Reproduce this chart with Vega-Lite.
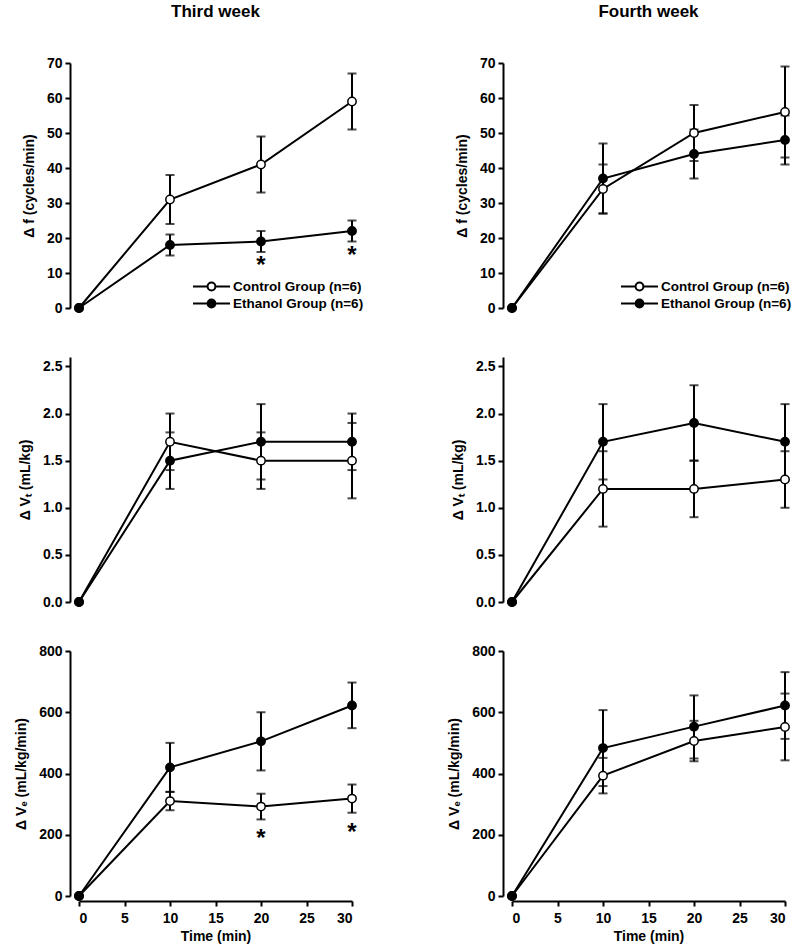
{
  "$schema": "https://vega.github.io/schema/vega-lite/v6.json",
  "background": "white",
  "padding": {"left": 14, "top": 3, "right": 5, "bottom": 3},
  "data": {
    "values": [
      {"week": "Third week", "var": "f", "group": "Control Group (n=6)", "time": 0, "mean": 0, "lo": null, "hi": null},
      {"week": "Third week", "var": "f", "group": "Control Group (n=6)", "time": 10, "mean": 31, "lo": 24, "hi": 38},
      {"week": "Third week", "var": "f", "group": "Control Group (n=6)", "time": 20, "mean": 41, "lo": 33, "hi": 49},
      {"week": "Third week", "var": "f", "group": "Control Group (n=6)", "time": 30, "mean": 59, "lo": 51, "hi": 67},
      {"week": "Third week", "var": "f", "group": "Ethanol Group (n=6)", "time": 0, "mean": 0, "lo": null, "hi": null},
      {"week": "Third week", "var": "f", "group": "Ethanol Group (n=6)", "time": 10, "mean": 18, "lo": 15, "hi": 21},
      {"week": "Third week", "var": "f", "group": "Ethanol Group (n=6)", "time": 20, "mean": 19, "lo": 16, "hi": 22, "star": "*"},
      {"week": "Third week", "var": "f", "group": "Ethanol Group (n=6)", "time": 30, "mean": 22, "lo": 19, "hi": 25, "star": "*"},

      {"week": "Fourth week", "var": "f", "group": "Control Group (n=6)", "time": 0, "mean": 0, "lo": null, "hi": null},
      {"week": "Fourth week", "var": "f", "group": "Control Group (n=6)", "time": 10, "mean": 34, "lo": 27, "hi": 41},
      {"week": "Fourth week", "var": "f", "group": "Control Group (n=6)", "time": 20, "mean": 50, "lo": 42, "hi": 58},
      {"week": "Fourth week", "var": "f", "group": "Control Group (n=6)", "time": 30, "mean": 56, "lo": 43, "hi": 69},
      {"week": "Fourth week", "var": "f", "group": "Ethanol Group (n=6)", "time": 0, "mean": 0, "lo": null, "hi": null},
      {"week": "Fourth week", "var": "f", "group": "Ethanol Group (n=6)", "time": 10, "mean": 37, "lo": 27, "hi": 47},
      {"week": "Fourth week", "var": "f", "group": "Ethanol Group (n=6)", "time": 20, "mean": 44, "lo": 37, "hi": 51},
      {"week": "Fourth week", "var": "f", "group": "Ethanol Group (n=6)", "time": 30, "mean": 48, "lo": 41, "hi": 55},

      {"week": "Third week", "var": "VT", "group": "Control Group (n=6)", "time": 0, "mean": 0, "lo": null, "hi": null},
      {"week": "Third week", "var": "VT", "group": "Control Group (n=6)", "time": 10, "mean": 1.7, "lo": 1.4, "hi": 2.0},
      {"week": "Third week", "var": "VT", "group": "Control Group (n=6)", "time": 20, "mean": 1.5, "lo": 1.2, "hi": 1.8},
      {"week": "Third week", "var": "VT", "group": "Control Group (n=6)", "time": 30, "mean": 1.5, "lo": 1.1, "hi": 1.9},
      {"week": "Third week", "var": "VT", "group": "Ethanol Group (n=6)", "time": 0, "mean": 0, "lo": null, "hi": null},
      {"week": "Third week", "var": "VT", "group": "Ethanol Group (n=6)", "time": 10, "mean": 1.5, "lo": 1.2, "hi": 1.8},
      {"week": "Third week", "var": "VT", "group": "Ethanol Group (n=6)", "time": 20, "mean": 1.7, "lo": 1.3, "hi": 2.1},
      {"week": "Third week", "var": "VT", "group": "Ethanol Group (n=6)", "time": 30, "mean": 1.7, "lo": 1.4, "hi": 2.0},

      {"week": "Fourth week", "var": "VT", "group": "Control Group (n=6)", "time": 0, "mean": 0, "lo": null, "hi": null},
      {"week": "Fourth week", "var": "VT", "group": "Control Group (n=6)", "time": 10, "mean": 1.2, "lo": 0.8, "hi": 1.6},
      {"week": "Fourth week", "var": "VT", "group": "Control Group (n=6)", "time": 20, "mean": 1.2, "lo": 0.9, "hi": 1.5},
      {"week": "Fourth week", "var": "VT", "group": "Control Group (n=6)", "time": 30, "mean": 1.3, "lo": 1.0, "hi": 1.6},
      {"week": "Fourth week", "var": "VT", "group": "Ethanol Group (n=6)", "time": 0, "mean": 0, "lo": null, "hi": null},
      {"week": "Fourth week", "var": "VT", "group": "Ethanol Group (n=6)", "time": 10, "mean": 1.7, "lo": 1.3, "hi": 2.1},
      {"week": "Fourth week", "var": "VT", "group": "Ethanol Group (n=6)", "time": 20, "mean": 1.9, "lo": 1.5, "hi": 2.3},
      {"week": "Fourth week", "var": "VT", "group": "Ethanol Group (n=6)", "time": 30, "mean": 1.7, "lo": 1.3, "hi": 2.1},

      {"week": "Third week", "var": "VE", "group": "Control Group (n=6)", "time": 0, "mean": 0, "lo": null, "hi": null},
      {"week": "Third week", "var": "VE", "group": "Control Group (n=6)", "time": 10, "mean": 310, "lo": 280, "hi": 340},
      {"week": "Third week", "var": "VE", "group": "Control Group (n=6)", "time": 20, "mean": 292, "lo": 250, "hi": 334, "star": "*"},
      {"week": "Third week", "var": "VE", "group": "Control Group (n=6)", "time": 30, "mean": 318, "lo": 272, "hi": 364, "star": "*"},
      {"week": "Third week", "var": "VE", "group": "Ethanol Group (n=6)", "time": 0, "mean": 0, "lo": null, "hi": null},
      {"week": "Third week", "var": "VE", "group": "Ethanol Group (n=6)", "time": 10, "mean": 420, "lo": 340, "hi": 500},
      {"week": "Third week", "var": "VE", "group": "Ethanol Group (n=6)", "time": 20, "mean": 505, "lo": 410, "hi": 600},
      {"week": "Third week", "var": "VE", "group": "Ethanol Group (n=6)", "time": 30, "mean": 622, "lo": 548, "hi": 697},

      {"week": "Fourth week", "var": "VE", "group": "Control Group (n=6)", "time": 0, "mean": 0, "lo": null, "hi": null},
      {"week": "Fourth week", "var": "VE", "group": "Control Group (n=6)", "time": 10, "mean": 393, "lo": 335, "hi": 451},
      {"week": "Fourth week", "var": "VE", "group": "Control Group (n=6)", "time": 20, "mean": 506, "lo": 440, "hi": 572},
      {"week": "Fourth week", "var": "VE", "group": "Control Group (n=6)", "time": 30, "mean": 552, "lo": 443, "hi": 661},
      {"week": "Fourth week", "var": "VE", "group": "Ethanol Group (n=6)", "time": 0, "mean": 0, "lo": null, "hi": null},
      {"week": "Fourth week", "var": "VE", "group": "Ethanol Group (n=6)", "time": 10, "mean": 483, "lo": 359, "hi": 607},
      {"week": "Fourth week", "var": "VE", "group": "Ethanol Group (n=6)", "time": 20, "mean": 553, "lo": 449, "hi": 655},
      {"week": "Fourth week", "var": "VE", "group": "Ethanol Group (n=6)", "time": 30, "mean": 622, "lo": 513, "hi": 731}
    ]
  },
  "columns": 2,
  "bounds": "flush",
  "spacing": {"row": 49, "column": 160},
  "resolve": {"scale": {"fill": "independent"}, "legend": {"fill": "independent"}},
  "concat": [
    {
      "width": 273, "height": 245,
      "title": {"text": "Third week", "anchor": "middle", "frame": "group", "offset": 35},
      "transform": [{"filter": "datum.week === 'Third week' && datum.var === 'f'"}],
      "encoding": {"x": {"field": "time", "type": "quantitative", "scale": {"domain": [0, 30]}, "axis": null}},
      "layer": [
        {"mark": {"type": "line", "color": "black", "strokeWidth": 2},
         "encoding": {"y": {"field": "mean", "type": "quantitative", "scale": {"domain": [0, 70]}, "axis": {"title": "Δ f (cycles/min)", "values": [0, 10, 20, 30, 40, 50, 60, 70]}}, "detail": {"field": "group"}}},
        {"transform": [{"filter": "isValid(datum.lo)"}], "mark": {"type": "rule", "color": "black", "strokeWidth": 2},
         "encoding": {"y": {"field": "lo", "type": "quantitative", "axis": {"title": "Δ f (cycles/min)", "values": [0, 10, 20, 30, 40, 50, 60, 70]}}, "y2": {"field": "hi"}}},
        {"transform": [{"filter": "isValid(datum.lo)"}], "mark": {"type": "tick", "orient": "horizontal", "size": 9, "thickness": 2, "color": "black"},
         "encoding": {"y": {"field": "lo", "type": "quantitative", "axis": {"title": "Δ f (cycles/min)", "values": [0, 10, 20, 30, 40, 50, 60, 70]}}}},
        {"transform": [{"filter": "isValid(datum.hi)"}], "mark": {"type": "tick", "orient": "horizontal", "size": 9, "thickness": 2, "color": "black"},
         "encoding": {"y": {"field": "hi", "type": "quantitative", "axis": {"title": "Δ f (cycles/min)", "values": [0, 10, 20, 30, 40, 50, 60, 70]}}}},
        {"mark": {"type": "point", "shape": "circle", "size": 70, "stroke": "black", "strokeWidth": 1.5, "opacity": 1},
         "encoding": {"y": {"field": "mean", "type": "quantitative", "axis": {"title": "Δ f (cycles/min)", "values": [0, 10, 20, 30, 40, 50, 60, 70]}},
                      "fill": {"field": "group", "type": "nominal", "scale": {"domain": ["Control Group (n=6)", "Ethanol Group (n=6)"], "range": ["white", "black"]},
                               "legend": {"orient": "none", "legendX": 113, "legendY": 215}}}},
        {"transform": [{"filter": "datum.star === '*'"}], "mark": {"type": "text", "fontSize": 24, "fontWeight": "bold", "align": "center", "baseline": "alphabetic", "dy": 21, "color": "black"},
         "encoding": {"y": {"field": "lo", "type": "quantitative", "axis": {"title": "Δ f (cycles/min)", "values": [0, 10, 20, 30, 40, 50, 60, 70]}}, "text": {"field": "star"}}}
      ]
    },
    {
      "width": 273, "height": 245,
      "title": {"text": "Fourth week", "anchor": "middle", "frame": "group", "offset": 35},
      "transform": [{"filter": "datum.week === 'Fourth week' && datum.var === 'f'"}],
      "encoding": {"x": {"field": "time", "type": "quantitative", "scale": {"domain": [0, 30]}, "axis": null}},
      "layer": [
        {"mark": {"type": "line", "color": "black", "strokeWidth": 2},
         "encoding": {"y": {"field": "mean", "type": "quantitative", "scale": {"domain": [0, 70]}, "axis": {"title": "Δ f (cycles/min)", "values": [0, 10, 20, 30, 40, 50, 60, 70]}}, "detail": {"field": "group"}}},
        {"transform": [{"filter": "isValid(datum.lo)"}], "mark": {"type": "rule", "color": "black", "strokeWidth": 2},
         "encoding": {"y": {"field": "lo", "type": "quantitative", "axis": {"title": "Δ f (cycles/min)", "values": [0, 10, 20, 30, 40, 50, 60, 70]}}, "y2": {"field": "hi"}}},
        {"transform": [{"filter": "isValid(datum.lo)"}], "mark": {"type": "tick", "orient": "horizontal", "size": 9, "thickness": 2, "color": "black"},
         "encoding": {"y": {"field": "lo", "type": "quantitative", "axis": {"title": "Δ f (cycles/min)", "values": [0, 10, 20, 30, 40, 50, 60, 70]}}}},
        {"transform": [{"filter": "isValid(datum.hi)"}], "mark": {"type": "tick", "orient": "horizontal", "size": 9, "thickness": 2, "color": "black"},
         "encoding": {"y": {"field": "hi", "type": "quantitative", "axis": {"title": "Δ f (cycles/min)", "values": [0, 10, 20, 30, 40, 50, 60, 70]}}}},
        {"mark": {"type": "point", "shape": "circle", "size": 70, "stroke": "black", "strokeWidth": 1.5, "opacity": 1},
         "encoding": {"y": {"field": "mean", "type": "quantitative", "axis": {"title": "Δ f (cycles/min)", "values": [0, 10, 20, 30, 40, 50, 60, 70]}},
                      "fill": {"field": "group", "type": "nominal", "scale": {"domain": ["Control Group (n=6)", "Ethanol Group (n=6)"], "range": ["white", "black"]},
                               "legend": {"orient": "none", "legendX": 108, "legendY": 215}}}}
      ]
    },
    {
      "width": 273, "height": 245,
      "transform": [{"filter": "datum.week === 'Third week' && datum.var === 'VT'"}],
      "encoding": {"x": {"field": "time", "type": "quantitative", "scale": {"domain": [0, 30]}, "axis": null}},
      "layer": [
        {"mark": {"type": "line", "color": "black", "strokeWidth": 2},
         "encoding": {"y": {"field": "mean", "type": "quantitative", "scale": {"domain": [0, 2.5]}, "axis": {"title": "Δ Vₜ (mL/kg)", "values": [0, 0.5, 1, 1.5, 2, 2.5], "format": ".1f"}}, "detail": {"field": "group"}}},
        {"transform": [{"filter": "isValid(datum.lo)"}], "mark": {"type": "rule", "color": "black", "strokeWidth": 2},
         "encoding": {"y": {"field": "lo", "type": "quantitative", "axis": {"title": "Δ Vₜ (mL/kg)", "values": [0, 0.5, 1, 1.5, 2, 2.5], "format": ".1f"}}, "y2": {"field": "hi"}}},
        {"transform": [{"filter": "isValid(datum.lo)"}], "mark": {"type": "tick", "orient": "horizontal", "size": 9, "thickness": 2, "color": "black"},
         "encoding": {"y": {"field": "lo", "type": "quantitative", "axis": {"title": "Δ Vₜ (mL/kg)", "values": [0, 0.5, 1, 1.5, 2, 2.5], "format": ".1f"}}}},
        {"transform": [{"filter": "isValid(datum.hi)"}], "mark": {"type": "tick", "orient": "horizontal", "size": 9, "thickness": 2, "color": "black"},
         "encoding": {"y": {"field": "hi", "type": "quantitative", "axis": {"title": "Δ Vₜ (mL/kg)", "values": [0, 0.5, 1, 1.5, 2, 2.5], "format": ".1f"}}}},
        {"mark": {"type": "point", "shape": "circle", "size": 70, "stroke": "black", "strokeWidth": 1.5, "opacity": 1},
         "encoding": {"y": {"field": "mean", "type": "quantitative", "axis": {"title": "Δ Vₜ (mL/kg)", "values": [0, 0.5, 1, 1.5, 2, 2.5], "format": ".1f"}},
                      "fill": {"field": "group", "type": "nominal", "scale": {"domain": ["Control Group (n=6)", "Ethanol Group (n=6)"], "range": ["white", "black"]}, "legend": null}}}
      ]
    },
    {
      "width": 273, "height": 245,
      "transform": [{"filter": "datum.week === 'Fourth week' && datum.var === 'VT'"}],
      "encoding": {"x": {"field": "time", "type": "quantitative", "scale": {"domain": [0, 30]}, "axis": null}},
      "layer": [
        {"mark": {"type": "line", "color": "black", "strokeWidth": 2},
         "encoding": {"y": {"field": "mean", "type": "quantitative", "scale": {"domain": [0, 2.5]}, "axis": {"title": "Δ Vₜ (mL/kg)", "values": [0, 0.5, 1, 1.5, 2, 2.5], "format": ".1f"}}, "detail": {"field": "group"}}},
        {"transform": [{"filter": "isValid(datum.lo)"}], "mark": {"type": "rule", "color": "black", "strokeWidth": 2},
         "encoding": {"y": {"field": "lo", "type": "quantitative", "axis": {"title": "Δ Vₜ (mL/kg)", "values": [0, 0.5, 1, 1.5, 2, 2.5], "format": ".1f"}}, "y2": {"field": "hi"}}},
        {"transform": [{"filter": "isValid(datum.lo)"}], "mark": {"type": "tick", "orient": "horizontal", "size": 9, "thickness": 2, "color": "black"},
         "encoding": {"y": {"field": "lo", "type": "quantitative", "axis": {"title": "Δ Vₜ (mL/kg)", "values": [0, 0.5, 1, 1.5, 2, 2.5], "format": ".1f"}}}},
        {"transform": [{"filter": "isValid(datum.hi)"}], "mark": {"type": "tick", "orient": "horizontal", "size": 9, "thickness": 2, "color": "black"},
         "encoding": {"y": {"field": "hi", "type": "quantitative", "axis": {"title": "Δ Vₜ (mL/kg)", "values": [0, 0.5, 1, 1.5, 2, 2.5], "format": ".1f"}}}},
        {"mark": {"type": "point", "shape": "circle", "size": 70, "stroke": "black", "strokeWidth": 1.5, "opacity": 1},
         "encoding": {"y": {"field": "mean", "type": "quantitative", "axis": {"title": "Δ Vₜ (mL/kg)", "values": [0, 0.5, 1, 1.5, 2, 2.5], "format": ".1f"}},
                      "fill": {"field": "group", "type": "nominal", "scale": {"domain": ["Control Group (n=6)", "Ethanol Group (n=6)"], "range": ["white", "black"]}, "legend": null}}}
      ]
    },
    {
      "width": 273, "height": 245,
      "transform": [{"filter": "datum.week === 'Third week' && datum.var === 'VE'"}],
      "encoding": {"x": {"field": "time", "type": "quantitative", "scale": {"domain": [0, 30]}, "axis": {"title": "Time (min)", "values": [0, 5, 10, 15, 20, 25, 30]}}},
      "layer": [
        {"mark": {"type": "line", "color": "black", "strokeWidth": 2},
         "encoding": {"y": {"field": "mean", "type": "quantitative", "scale": {"domain": [0, 800]}, "axis": {"title": "Δ Vₑ (mL/kg/min)", "values": [0, 200, 400, 600, 800]}}, "detail": {"field": "group"}}},
        {"transform": [{"filter": "isValid(datum.lo)"}], "mark": {"type": "rule", "color": "black", "strokeWidth": 2},
         "encoding": {"y": {"field": "lo", "type": "quantitative", "axis": {"title": "Δ Vₑ (mL/kg/min)", "values": [0, 200, 400, 600, 800]}}, "y2": {"field": "hi"}}},
        {"transform": [{"filter": "isValid(datum.lo)"}], "mark": {"type": "tick", "orient": "horizontal", "size": 9, "thickness": 2, "color": "black"},
         "encoding": {"y": {"field": "lo", "type": "quantitative", "axis": {"title": "Δ Vₑ (mL/kg/min)", "values": [0, 200, 400, 600, 800]}}}},
        {"transform": [{"filter": "isValid(datum.hi)"}], "mark": {"type": "tick", "orient": "horizontal", "size": 9, "thickness": 2, "color": "black"},
         "encoding": {"y": {"field": "hi", "type": "quantitative", "axis": {"title": "Δ Vₑ (mL/kg/min)", "values": [0, 200, 400, 600, 800]}}}},
        {"mark": {"type": "point", "shape": "circle", "size": 70, "stroke": "black", "strokeWidth": 1.5, "opacity": 1},
         "encoding": {"y": {"field": "mean", "type": "quantitative", "axis": {"title": "Δ Vₑ (mL/kg/min)", "values": [0, 200, 400, 600, 800]}},
                      "fill": {"field": "group", "type": "nominal", "scale": {"domain": ["Control Group (n=6)", "Ethanol Group (n=6)"], "range": ["white", "black"]}, "legend": null}}},
        {"transform": [{"filter": "datum.star === '*'"}], "mark": {"type": "text", "fontSize": 24, "fontWeight": "bold", "align": "center", "baseline": "alphabetic", "dy": 27, "color": "black"},
         "encoding": {"y": {"field": "lo", "type": "quantitative", "axis": {"title": "Δ Vₑ (mL/kg/min)", "values": [0, 200, 400, 600, 800]}}, "text": {"field": "star"}}}
      ]
    },
    {
      "width": 273, "height": 245,
      "transform": [{"filter": "datum.week === 'Fourth week' && datum.var === 'VE'"}],
      "encoding": {"x": {"field": "time", "type": "quantitative", "scale": {"domain": [0, 30]}, "axis": {"title": "Time (min)", "values": [0, 5, 10, 15, 20, 25, 30]}}},
      "layer": [
        {"mark": {"type": "line", "color": "black", "strokeWidth": 2},
         "encoding": {"y": {"field": "mean", "type": "quantitative", "scale": {"domain": [0, 800]}, "axis": {"title": "Δ Vₑ (mL/kg/min)", "values": [0, 200, 400, 600, 800]}}, "detail": {"field": "group"}}},
        {"transform": [{"filter": "isValid(datum.lo)"}], "mark": {"type": "rule", "color": "black", "strokeWidth": 2},
         "encoding": {"y": {"field": "lo", "type": "quantitative", "axis": {"title": "Δ Vₑ (mL/kg/min)", "values": [0, 200, 400, 600, 800]}}, "y2": {"field": "hi"}}},
        {"transform": [{"filter": "isValid(datum.lo)"}], "mark": {"type": "tick", "orient": "horizontal", "size": 9, "thickness": 2, "color": "black"},
         "encoding": {"y": {"field": "lo", "type": "quantitative", "axis": {"title": "Δ Vₑ (mL/kg/min)", "values": [0, 200, 400, 600, 800]}}}},
        {"transform": [{"filter": "isValid(datum.hi)"}], "mark": {"type": "tick", "orient": "horizontal", "size": 9, "thickness": 2, "color": "black"},
         "encoding": {"y": {"field": "hi", "type": "quantitative", "axis": {"title": "Δ Vₑ (mL/kg/min)", "values": [0, 200, 400, 600, 800]}}}},
        {"mark": {"type": "point", "shape": "circle", "size": 70, "stroke": "black", "strokeWidth": 1.5, "opacity": 1},
         "encoding": {"y": {"field": "mean", "type": "quantitative", "axis": {"title": "Δ Vₑ (mL/kg/min)", "values": [0, 200, 400, 600, 800]}},
                      "fill": {"field": "group", "type": "nominal", "scale": {"domain": ["Control Group (n=6)", "Ethanol Group (n=6)"], "range": ["white", "black"]}, "legend": null}}}
      ]
    }
  ],
  "config": {
    "font": "Liberation Sans",
    "view": {"stroke": null},
    "axis": {
      "grid": false,
      "domainColor": "black", "domainWidth": 2,
      "tickColor": "black", "tickWidth": 2, "tickSize": 5,
      "labelColor": "black", "labelFont": "Liberation Sans", "labelFontSize": 14, "labelFontWeight": "bold", "labelPadding": 3,
      "titleColor": "black", "titleFont": "Liberation Sans", "titleFontSize": 14, "titleFontWeight": "bold"
    },
    "axisY": {"offset": 9, "titlePadding": 10},
    "axisX": {"offset": 5, "titlePadding": 4, "labelPadding": 5},
    "title": {"font": "Liberation Sans", "fontSize": 17, "fontWeight": "bold", "color": "black"},
    "legend": {
      "title": null,
      "padding": 0,
      "symbolType": "M-1,0L-0.21,0M0.21,0L1,0M-0.21,0A0.21,0.21,0,1,1,0.21,0A0.21,0.21,0,1,1,-0.21,0Z",
      "symbolSize": 1369,
      "symbolStrokeColor": "black",
      "symbolStrokeWidth": 2,
      "symbolOpacity": 1,
      "labelFont": "Liberation Sans", "labelFontSize": 13.5, "labelFontWeight": "bold", "labelColor": "black",
      "labelOffset": 2,
      "clipHeight": 17,
      "rowPadding": 0
    }
  }
}
